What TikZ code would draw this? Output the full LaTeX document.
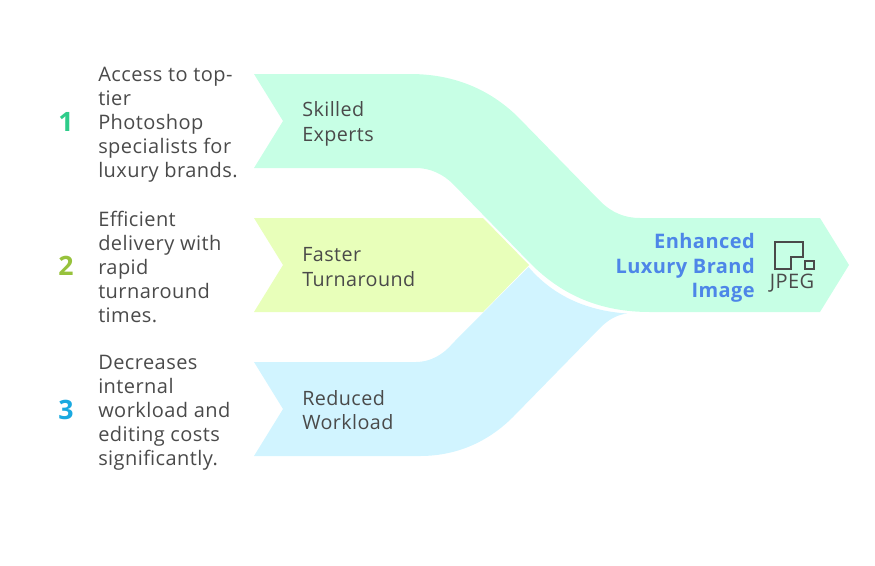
\documentclass[tikz,border=0pt]{standalone}
\usepackage{fontspec}
\setmainfont{Open Sans}[LetterSpace=2.2]
\definecolor{flowgreen}{HTML}{C7FFE5}
\definecolor{flowlime}{HTML}{E8FFBA}
\definecolor{flowblue}{HTML}{D1F4FF}
\definecolor{inkgrey}{HTML}{4A4A4A}
\definecolor{titleblue}{HTML}{4D86E8}
\definecolor{numgreen}{HTML}{2ECC8A}
\definecolor{numlime}{HTML}{97C23C}
\definecolor{numblue}{HTML}{1AA9E0}
\tikzset{
	desc/.style={anchor=west, inner sep=0pt, align=left, text=inkgrey, font=\fontsize{15}{18}\selectfont},
	band/.style={anchor=west, inner sep=0pt, align=left, text=inkgrey, font=\fontsize{14.8}{18.5}\selectfont},
	num/.style={inner sep=0pt, font=\fontsize{20}{20}\selectfont\bfseries},
}
\begin{document}
\begin{tikzpicture}[x=0.75pt, y=-0.75pt]
	\useasboundingbox (0,0) rectangle (875,565);

	%lower band
	\fill[flowblue] (254,362) -- (283,409) -- (254,456) -- (420,456)
		.. controls (455,456) and (487,443) .. (513,417) -- (600,328)
		.. controls (608,320) and (616,315) .. (627,313.5)
		.. controls (590,311) and (555,298) .. (528.5,267) -- (453,343)
		.. controls (443,355) and (430,362) .. (416,362) -- cycle;

	%middle band
	\fill[flowlime] (254,218) -- (283,265) -- (254,312) -- (483,312) -- (529,265) -- (483,218) -- cycle;

	%upper band
	\fill[flowgreen] (254,74) -- (283,121) -- (254,168) -- (416,168)
		.. controls (430,168) and (443,174) .. (453,184) -- (531,264)
		.. controls (562,295) and (600,312) .. (650,312) -- (820,312)
		-- (849,265) -- (820,218) -- (640,218)
		.. controls (625,218) and (612,213) .. (600,201) -- (517,116)
		.. controls (490,90) and (455,74) .. (410,74) -- cycle;

	%numbers
	\node[num, text=numgreen] (one) at (66,122) {1};
	\node[num, text=numlime] (two) at (66,266) {2};
	\node[num, text=numblue] (three) at (66,410) {3};

	%descriptions
	\node[desc] (access) at (98,125) {Access to top-\\tier\\Photoshop\\specialists for\\luxury brands.};
	\node[desc] (delivery) at (98,267) {Efficient\\delivery with\\rapid\\turnaround\\times.};
	\node[desc] (costs) at (98,413) {Decreases\\internal\\workload and\\editing costs\\significantly.};

	%band labels
	\node[band] (skilled) at (302,124) {Skilled\\Experts};
	\node[band] (faster) at (302,267) {Faster\\Turnaround};
	\node[band] (reduced) at (302,410) {Reduced\\Workload};

	%result
	\node[anchor=east, inner sep=0pt, align=right, text=titleblue, font=\fontsize{15}{18.5}\selectfont\bfseries] (result) at (755,268) {Enhanced\\Luxury Brand\\Image};
	\draw[inkgrey, line width=1.5pt] (775,242) -- (803,242) -- (803,257) -- (791,257) -- (791,269) -- (775,269) -- cycle;
	\draw[inkgrey, line width=1.2pt] (805,261) rectangle (814,269);
	\node[inner sep=0pt, text=inkgrey, font=\fontsize{15}{15}\selectfont] (jpeg) at (792,283) {JPEG};
\end{tikzpicture}
\end{document}
